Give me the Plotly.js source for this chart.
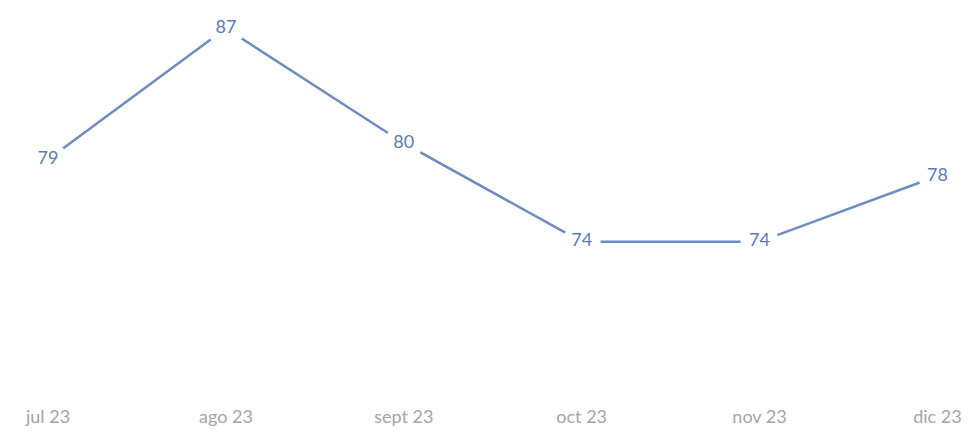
<!DOCTYPE html>
<html><head><meta charset="utf-8">
<script src="https://cdn.plot.ly/plotly-3.0.1.min.js"></script>
<style>html,body{margin:0;padding:0;background:#fff}#chart{width:973px;height:431px}</style>
</head><body><div id="chart"></div>
<script>
const months = ["jul 23", "ago 23", "sept 23", "oct 23", "nov 23", "dic 23"];
const values = [79, 87, 80, 74, 74, 78];

const trace = {
  x: months, y: values,
  type: "scatter", mode: "lines+markers+text",
  line: {color: "#6f8cc0", width: 2.5},
  marker: {color: "#ffffff", size: 38, line: {width: 0}},
  text: values.map(String),
  textposition: "middle center",
  textfont: {family: "Lato, 'Open Sans', sans-serif", size: 18, color: "#5b7bb2"},
  hoverinfo: "skip", cliponaxis: false
};
const layout = {
  width: 973, height: 431,
  margin: {l: 0, r: 0, t: 0, b: 32},
  paper_bgcolor: "#fff", plot_bgcolor: "#fff",
  showlegend: false,
  xaxis: {type: "category", range: [-0.27, 5.2], showgrid: false, zeroline: false, showline: false,
    ticks: "outside", ticklen: 1, tickcolor: "rgba(0,0,0,0)",
    tickfont: {family: "Lato, 'Open Sans', sans-serif", size: 18, color: "#a5a5a5"}},
  yaxis: {range: [64.42, 88.72], visible: false, showgrid: false, zeroline: false}
};
Plotly.newPlot("chart", [trace], layout, {staticPlot: true});
</script></body></html>
